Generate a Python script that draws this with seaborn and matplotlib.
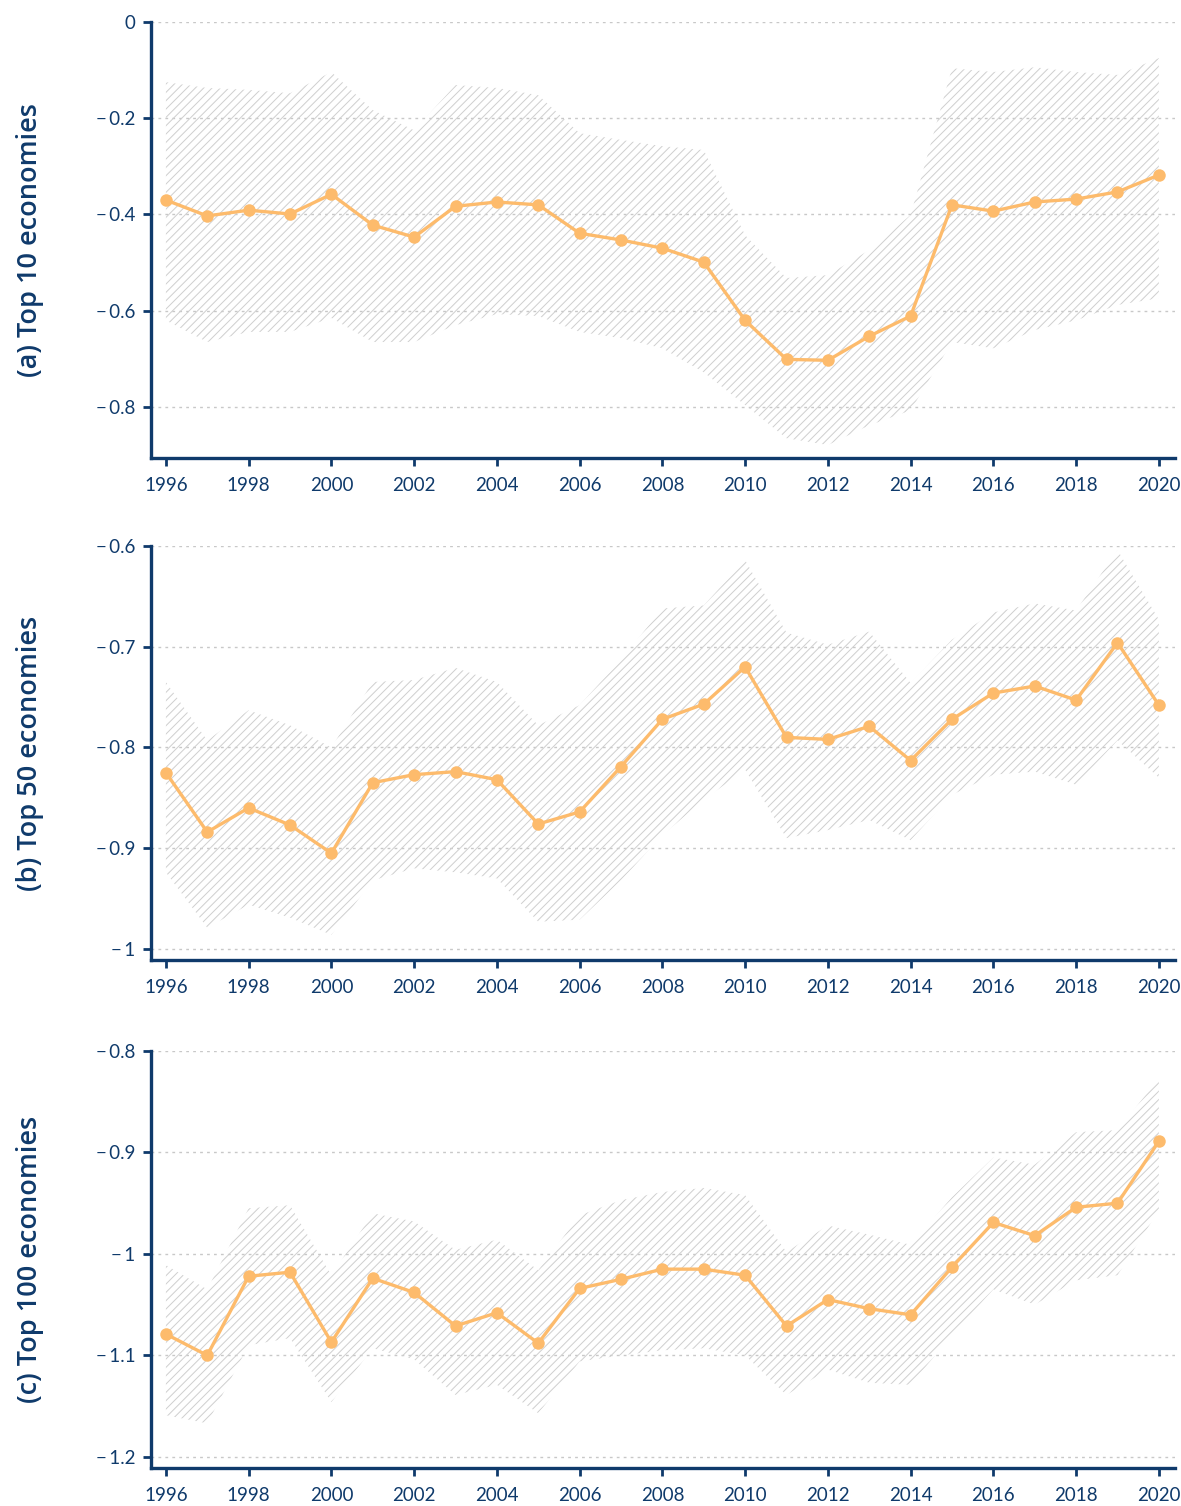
import numpy as np
import pandas as pd
import matplotlib
matplotlib.use("Agg")
import matplotlib.pyplot as plt
import seaborn as sns

years = list(range(1996, 2021))

# (a) Top 10 economies
top10_mean = [-0.370, -0.403, -0.391, -0.399, -0.358, -0.422, -0.447, -0.383, -0.374, -0.380,
              -0.439, -0.453, -0.470, -0.499, -0.620, -0.701, -0.703, -0.653, -0.611, -0.380,
              -0.393, -0.374, -0.368, -0.353, -0.318]
top10_upper = [-0.125, -0.137, -0.141, -0.148, -0.104, -0.183, -0.225, -0.131, -0.137, -0.152,
               -0.231, -0.245, -0.258, -0.266, -0.443, -0.532, -0.526, -0.474, -0.401, -0.096,
               -0.104, -0.094, -0.104, -0.110, -0.075]
top10_lower = [-0.620, -0.665, -0.644, -0.644, -0.615, -0.665, -0.665, -0.630, -0.607, -0.611,
               -0.644, -0.657, -0.678, -0.728, -0.796, -0.865, -0.879, -0.838, -0.807, -0.665,
               -0.678, -0.640, -0.620, -0.588, -0.574]

# (b) Top 50 economies
top50_mean = [-0.825, -0.884, -0.860, -0.877, -0.905, -0.835, -0.827, -0.824, -0.832, -0.876,
              -0.864, -0.819, -0.772, -0.757, -0.720, -0.790, -0.792, -0.779, -0.813, -0.772,
              -0.746, -0.739, -0.753, -0.696, -0.758]
top50_upper = [-0.735, -0.793, -0.763, -0.778, -0.800, -0.735, -0.733, -0.721, -0.735, -0.778,
               -0.758, -0.713, -0.662, -0.659, -0.614, -0.686, -0.698, -0.685, -0.736, -0.693,
               -0.666, -0.657, -0.664, -0.604, -0.673]
top50_lower = [-0.924, -0.979, -0.956, -0.969, -0.986, -0.932, -0.920, -0.924, -0.930, -0.973,
               -0.971, -0.932, -0.887, -0.852, -0.822, -0.890, -0.882, -0.872, -0.892, -0.847,
               -0.827, -0.824, -0.837, -0.793, -0.830]

# (c) Top 100 economies
top100_mean = [-1.079, -1.100, -1.022, -1.018, -1.087, -1.024, -1.038, -1.071, -1.058, -1.088,
               -1.034, -1.025, -1.015, -1.015, -1.021, -1.071, -1.045, -1.054, -1.060, -1.013,
               -0.969, -0.982, -0.954, -0.950, -0.889]
top100_upper = [-1.011, -1.035, -0.955, -0.952, -1.021, -0.960, -0.968, -0.996, -0.986, -1.016,
                -0.962, -0.947, -0.939, -0.935, -0.942, -0.998, -0.972, -0.981, -0.991, -0.944,
                -0.905, -0.912, -0.880, -0.878, -0.827]
top100_lower = [-1.159, -1.167, -1.090, -1.083, -1.146, -1.093, -1.104, -1.139, -1.129, -1.157,
                -1.106, -1.100, -1.095, -1.093, -1.100, -1.139, -1.114, -1.127, -1.129, -1.080,
                -1.035, -1.050, -1.026, -1.021, -0.957]

panel_labels = ["(a) Top 10 economies", "(b) Top 50 economies", "(c) Top 100 economies"]
panel_means = [top10_mean, top50_mean, top100_mean]
panel_uppers = [top10_upper, top50_upper, top100_upper]
panel_lowers = [top10_lower, top50_lower, top100_lower]
panel_yticks = [[0, -0.2, -0.4, -0.6, -0.8],
                [-0.6, -0.7, -0.8, -0.9, -1.0],
                [-0.8, -0.9, -1.0, -1.1, -1.2]]
panel_ylims = [(-0.906, 0.0), (-1.011, -0.6), (-1.211, -0.8)]
xticks = list(range(1996, 2021, 2))

NAVY = "#0f3a6b"
ORANGE = "#fdbb6c"
HATCH = "#cfcfcf"

sns.set_theme(style="white")
plt.rcParams["font.family"] = ["Lato", "DejaVu Sans"]
plt.rcParams["hatch.linewidth"] = 0.7
plt.rcParams["hatch.color"] = HATCH

fig = plt.figure(figsize=(11.81, 15.06), dpi=100)
left, right = 151 / 1181, 1175 / 1181
boxes = [(22, 458), (546, 960), (1051, 1468)]


def fmt(v):
    if v == 0:
        return "0"
    s = f"{abs(v):g}"
    return ("\u2212\u2009" + s) if v < 0 else s


for i in range(3):
    top_px, bot_px = boxes[i]
    ax = fig.add_axes([left, 1 - bot_px / 1506, right - left, (bot_px - top_px) / 1506])
    df = pd.DataFrame({"year": years, "value": panel_means[i]})

    for t in panel_yticks[i]:
        ax.axhline(t, color="#c8c8c8", lw=1.0, ls=(0, (2, 3)), zorder=0)

    ax.fill_between(years, panel_lowers[i], panel_uppers[i], facecolor="none",
                    edgecolor=HATCH, hatch="////", linewidth=0, zorder=1)

    sns.lineplot(data=df, x="year", y="value", ax=ax, color=ORANGE, lw=2.4,
                 marker="o", markersize=9, markeredgecolor=ORANGE, markeredgewidth=0,
                 zorder=3)

    ax.set_xlim(1995.64, 2020.39)
    ax.set_ylim(*panel_ylims[i])
    ax.set_xticks(xticks)
    ax.set_xticklabels([str(x) for x in xticks])
    ax.set_yticks(panel_yticks[i])
    ax.set_yticklabels([fmt(v) for v in panel_yticks[i]])
    ax.set_xlabel("")
    ax.set_ylabel(panel_labels[i], fontsize=19.5, color=NAVY, fontweight="semibold",
                  family=["Open Sans", "DejaVu Sans"])
    ax.yaxis.set_label_coords(-107 / 1024, 0.5)

    for side in ["top", "right"]:
        ax.spines[side].set_visible(False)
    for side in ["left", "bottom"]:
        ax.spines[side].set_color(NAVY)
        ax.spines[side].set_linewidth(2.4)
    ax.tick_params(axis="both", which="major", direction="out", length=6, width=2,
                   color=NAVY, labelcolor=NAVY, labelsize=13.5, pad=5,
                   left=True, bottom=True)
    ax.tick_params(axis="x", pad=8)
    ax.grid(False)

fig.savefig("out.png", dpi=100, facecolor="white")
